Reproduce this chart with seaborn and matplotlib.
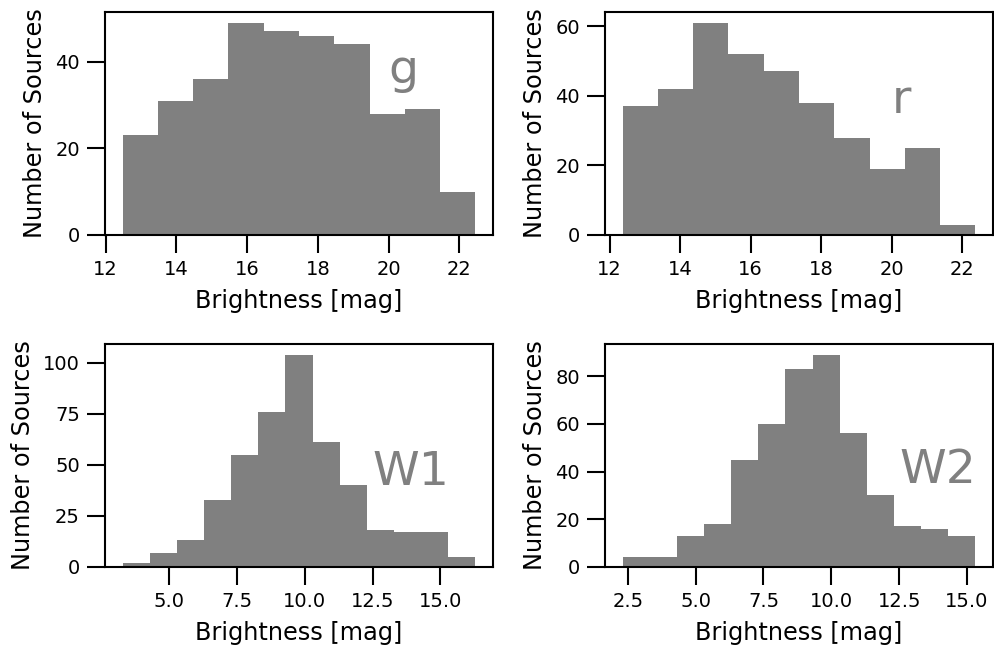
import numpy as np
import pandas as pd
import matplotlib
matplotlib.use("Agg")
import matplotlib.pyplot as plt
import seaborn as sns

# ---- data ----
bands = ["g", "r", "W1", "W2"]

g_start, g_width = 12.48, 0.997
g_counts = [23, 31, 36, 49, 47, 46, 44, 28, 29, 10]

r_start, r_width = 12.37, 1.0
r_counts = [37, 42, 61, 52, 47, 38, 28, 19, 25, 3]

w1_start, w1_width = 3.29, 1.0
w1_counts = [2, 7, 13, 33, 55, 76, 104, 61, 40, 18, 17, 17, 5]

w2_start, w2_width = 2.31, 1.0
w2_counts = [4, 4, 13, 18, 45, 60, 83, 89, 56, 30, 17, 16, 13]

label_x = [20.0, 20.0, 12.5, 12.5]
label_y = [35, 35, 40, 35]

xticks = [[12, 14, 16, 18, 20, 22], [12, 14, 16, 18, 20, 22],
          [5.0, 7.5, 10.0, 12.5, 15.0], [2.5, 5.0, 7.5, 10.0, 12.5, 15.0]]
yticks = [[0, 20, 40], [0, 20, 40, 60], [0, 25, 50, 75, 100], [0, 20, 40, 60, 80]]

starts = [g_start, r_start, w1_start, w2_start]
widths = [g_width, r_width, w1_width, w2_width]
counts = [g_counts, r_counts, w1_counts, w2_counts]

sns.set_style("ticks", {"text.color": "black", "axes.labelcolor": "black",
                        "xtick.color": "black", "ytick.color": "black",
                        "axes.edgecolor": "black"})
plt.rcParams["font.family"] = ["DejaVu Sans"]

fig, axes = plt.subplots(2, 2, figsize=(9.95, 6.5), dpi=100)
fig.subplots_adjust(left=0.1055, right=0.998, bottom=0.1277, top=0.9815,
                    wspace=0.2887, hspace=0.489)

for ax, band, s, w, c, lx, ly, xt, yt in zip(axes.flat, bands, starts, widths,
                                             counts, label_x, label_y, xticks, yticks):
    n = len(c)
    edges = s + w * np.arange(n + 1)
    centers = (edges[:-1] + edges[1:]) / 2
    df = pd.DataFrame({"mag": centers, "n": c})
    sns.histplot(data=df, x="mag", weights="n", bins=n,
                 binrange=(float(edges[0]), float(edges[-1])), ax=ax,
                 color="#808080", alpha=1, edgecolor="#808080", linewidth=0)
    ax.set_ylim(0, max(c) * 1.05)
    ax.set_xlim(edges[0] - 0.05 * (edges[-1] - edges[0]),
                edges[-1] + 0.05 * (edges[-1] - edges[0]))
    ax.set_xticks(xt)
    ax.set_yticks(yt)
    if isinstance(xt[0], float):
        ax.set_xticklabels([f"{v:.1f}" for v in xt])
    ax.set_xlabel("Brightness [mag]", fontsize=17.3, color="black", labelpad=7)
    ax.set_ylabel("Number of Sources", fontsize=17.3, color="black", labelpad=6)
    ax.tick_params(axis="both", labelsize=14, length=13, width=1.5,
                   direction="out", color="black", labelcolor="black", pad=5)
    for sp in ax.spines.values():
        sp.set_linewidth(1.5)
        sp.set_color("black")
        sp.set_visible(True)
    ax.text(lx, ly, band, fontsize=34, color="#808080", ha="left", va="baseline")

fig.savefig("out.png", dpi=100)
